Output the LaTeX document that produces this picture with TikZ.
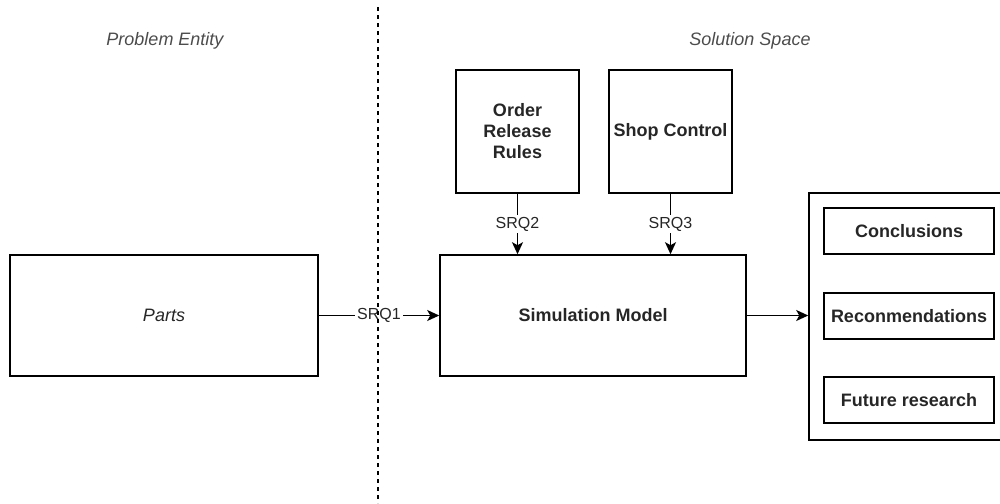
\documentclass[tikz,border=0pt]{standalone}
\usepackage{fontspec}
\setmainfont{Liberation Sans}
\usetikzlibrary{arrows.meta}

\begin{document}
\begin{tikzpicture}[x = 0.5pt, y = -0.5pt,
        box/.style = {draw, line width = 0.8pt, align = center, inner sep = 0pt,
            font = \bfseries\fontsize{9}{10.5}\selectfont, text = black!85},
        link/.style = {line width = 0.8pt, -{Stealth[length = 6pt, width = 5.5pt, inset = 1.5pt]}},
        srq/.style = {fill = white, inner sep = 1pt, font = \fontsize{8}{9.5}\selectfont, text = black!85},
        side/.style = {font = \itshape\fontsize{9}{10}\selectfont, text = black!70}]
        \clip (0, 0) rectangle (1000, 503);
        \node[side] (problem) at (165, 41) {Problem Entity};
        \node[side] (solution) at (750, 41) {Solution Space};
        % the two halves
        \node[box, minimum width = 154pt, minimum height = 60.5pt, font = \itshape\fontsize{9}{10}\selectfont] (parts) at (164, 315.5) {Parts};
        \node[box, minimum width = 153pt, minimum height = 60.5pt] (simmodel) at (593, 315.5) {Simulation Model};
        \node[box, minimum width = 61.5pt, minimum height = 61.5pt] (orderrules) at (517.5, 131.5) {Order\\Release\\Rules};
        \node[box, minimum width = 61.5pt, minimum height = 61.5pt] (shopctrl) at (670.5, 131.5) {Shop Control};
        \node[box, minimum width = 100pt, minimum height = 123.5pt] (results) at (909, 316.5) {};
        \foreach \n/\y/\t in {concl/231/Conclusions, recom/316/Reconmendations, future/400/Future research}{
            \node[box, minimum width = 85pt, minimum height = 23pt] (\n) at (909, \y) {\t};
        }
        \draw[link] (parts) -- node[srq] {SRQ1} (simmodel);
        \draw[link] (orderrules) -- node[srq] {SRQ2} (orderrules |- simmodel.north);
        \draw[link] (shopctrl) -- node[srq] {SRQ3} (shopctrl |- simmodel.north);
        \draw[link] (simmodel.east) -- (simmodel.east -| results.west);
        % divider on top of the labels
        \draw[line width = 0.75pt, dash pattern = on 2pt off 2pt] (378, 7) -- (378, 503);
\end{tikzpicture}
\end{document}
